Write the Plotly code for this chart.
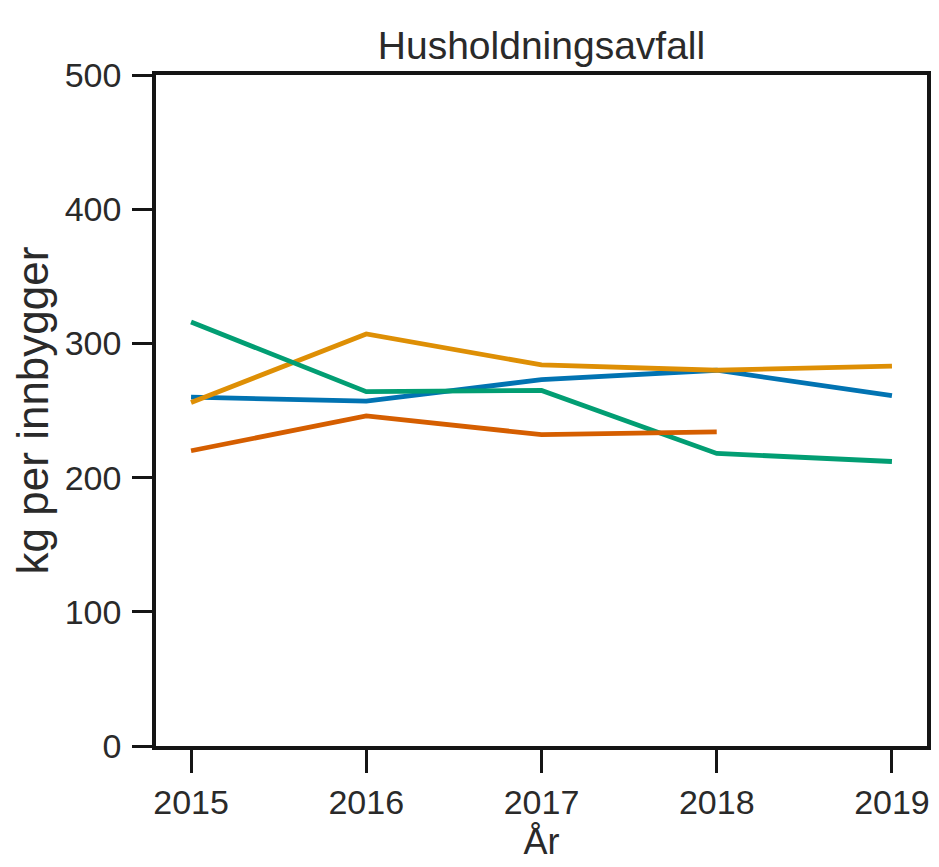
import plotly.graph_objects as go

years = [2015, 2016, 2017, 2018, 2019]
blue_vals = [260, 257, 273, 280, 261]
yellow_vals = [256, 307, 284, 280, 283]
green_vals = [316, 264, 265, 218, 212]
red_years = [2015, 2016, 2017, 2018]
red_vals = [220, 246, 232, 234]

y_ticks = [0, 100, 200, 300, 400, 500]

FONT = "Liberation Sans, Arial, sans-serif"
TXT = "#2a2a2a"
AX = "#151515"

fig = go.Figure()
series = [
    (years, blue_vals, "#0173B2"),
    (years, yellow_vals, "#DE8F05"),
    (years, green_vals, "#029E73"),
    (red_years, red_vals, "#D55E00"),
]
for xs, ys, col in series:
    fig.add_trace(go.Scatter(x=xs, y=ys, mode="lines",
                             line=dict(color=col, width=4.8), showlegend=False))

fig.update_layout(
    width=923, height=859,
    margin=dict(l=148, r=0, t=67, b=121),
    paper_bgcolor="white", plot_bgcolor="white",
    font=dict(family=FONT, size=34, color=TXT),
    title=dict(text="Husholdningsavfall", x=0.5, xref="paper", xanchor="center",
               y=1 - 37 / 859, yref="container", yanchor="middle",
               font=dict(family=FONT, size=39, color=TXT)),
)
fig.update_xaxes(
    range=[2014.8, 2019.2], tickvals=years, ticktext=[str(y) for y in years],
    showline=True, linecolor=AX, linewidth=3.5, mirror=True,
    ticks="outside", ticklen=23, tickwidth=3, tickcolor=AX,
    ticklabelstandoff=0,
    showgrid=False, zeroline=False,
    tickfont=dict(family=FONT, size=34, color=TXT),
    title=dict(text="År", standoff=4, font=dict(family=FONT, size=36, color=TXT)),
)
fig.update_yaxes(
    range=[0, 500], tickvals=y_ticks,
    showline=True, linecolor=AX, linewidth=3.5, mirror=True,
    ticks="outside", ticklen=20, tickwidth=3, tickcolor=AX,
    ticklabelstandoff=4,
    showgrid=False, zeroline=False,
    tickfont=dict(family=FONT, size=34, color=TXT),
    title=dict(text="kg per innbygger", standoff=14, font=dict(family=FONT, size=44, color=TXT)),
)

fig.write_html("out.html")
